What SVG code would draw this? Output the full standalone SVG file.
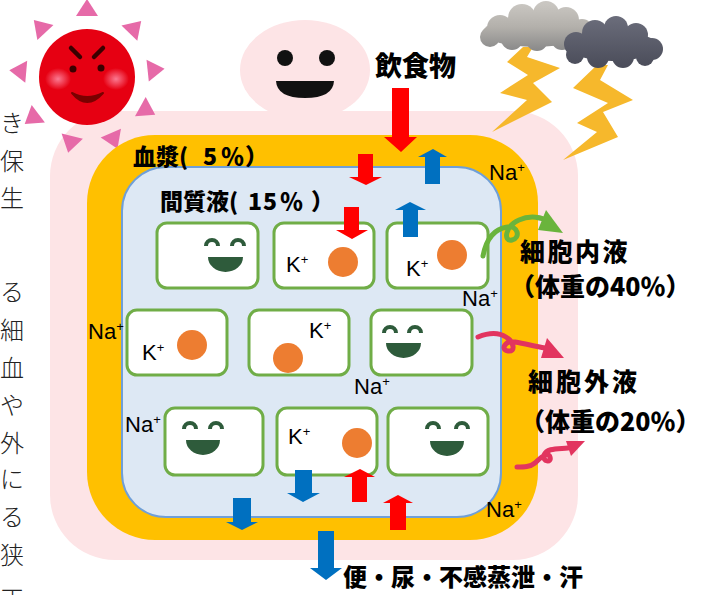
<svg xmlns="http://www.w3.org/2000/svg" width="717" height="595" viewBox="0 0 717 595">
  <defs>
    <style>
      .cell { fill: #ffffff; stroke: #70ad47; stroke-width: 3; }
      .eye { fill: none; stroke: #2e5b3b; stroke-width: 4; }
      .mouth { fill: #2e5b3b; }
      .dot { fill: #ed7d31; }
      .ion { font-family: "Liberation Sans Narrow", "Liberation Sans", sans-serif; font-size: 22px; fill: #000; }
      .sup { font-size: 13px; }
      .head { font-family: "Noto Sans CJK JP", "Noto Sans", sans-serif; font-weight: 900; fill: #000; }
      .side { font-family: "Noto Sans CJK JP", sans-serif; font-weight: 300; font-size: 24px; fill: #222; }
      .red { fill: #ff0000; }
      .blue { fill: #0070c0; }
      .ray { fill: #e66aa8; }
      .bolt { fill: #f6b82c; }
    </style>
    <radialGradient id="cheek">
      <stop offset="0" stop-color="#ff8fa8" stop-opacity="0.85"/>
      <stop offset="1" stop-color="#ff8fa8" stop-opacity="0"/>
    </radialGradient>
    <linearGradient id="cloudLight" gradientUnits="userSpaceOnUse" x1="0" y1="4" x2="0" y2="50">
      <stop offset="0" stop-color="#c9c6c1"/>
      <stop offset="0.5" stop-color="#b3b0ab"/>
      <stop offset="1" stop-color="#8a8a8a"/>
    </linearGradient>
    <linearGradient id="cloudDark" gradientUnits="userSpaceOnUse" x1="0" y1="18" x2="0" y2="68">
      <stop offset="0" stop-color="#6a6c7a"/>
      <stop offset="1" stop-color="#4a4c59"/>
    </linearGradient>
    <polygon id="rayShape" points="0,-78 11,-61 -11,-61"/>
  </defs>

  <!-- right-hand ends of a text block -->
  <g id="sidetext" class="side">
    <text x="0" y="132">き</text>
    <text x="0" y="170">保</text>
    <text x="0" y="207">生</text>
    <text x="0" y="301">る</text>
    <text x="0" y="339">細</text>
    <text x="0" y="377">血</text>
    <text x="0" y="414">や</text>
    <text x="0" y="452">外</text>
    <text x="0" y="488">に</text>
    <text x="0" y="526">る</text>
    <text x="0" y="564">狭</text>
    <text x="0" y="608">正</text>
  </g>

  <!-- body silhouette -->
  <g id="body">
    <ellipse cx="305" cy="70" rx="65" ry="50" fill="#fde4e6"/>
    <rect x="50" y="111" width="528" height="449" rx="65" fill="#fde4e6"/>
    <circle cx="285" cy="58" r="8" fill="#111"/>
    <circle cx="327" cy="58" r="8" fill="#111"/>
    <path d="M276,81 L334,81 Q333,98 305,98 Q277,98 276,81 Z" fill="#111"/>
  </g>

  <!-- sun -->
  <g id="sun">
    <g transform="translate(87,77)">
      <use href="#rayShape" class="ray" transform="rotate(0)"/>
      <use href="#rayShape" class="ray" transform="rotate(44)"/>
      <use href="#rayShape" class="ray" transform="rotate(84)"/>
      <use href="#rayShape" class="ray" transform="rotate(119)"/>
      <use href="#rayShape" class="ray" transform="rotate(157)"/>
      <use href="#rayShape" class="ray" transform="rotate(194)"/>
      <use href="#rayShape" class="ray" transform="rotate(233)"/>
      <use href="#rayShape" class="ray" transform="rotate(275)"/>
      <use href="#rayShape" class="ray" transform="rotate(317)"/>
    </g>
    <circle cx="87" cy="77" r="48" fill="#e60012"/>
    <ellipse cx="58" cy="79" rx="13" ry="11" fill="url(#cheek)"/>
    <ellipse cx="116" cy="79" rx="13" ry="11" fill="url(#cheek)"/>
    <path d="M71,48 L80,57 M103,48 L94,57" stroke="#3a0000" stroke-width="4.5" stroke-linecap="round"/>
    <circle cx="73" cy="69" r="3.5" fill="#3a0000"/>
    <circle cx="101" cy="68" r="3.5" fill="#3a0000"/>
    <path d="M72,93 Q87,111 103,93 Q87,101 72,93 Z" fill="#7a0000" stroke="#7a0000" stroke-width="2" stroke-linejoin="round"/>
  </g>

  <!-- plasma band and interstitial space -->
  <g id="plasma">
    <rect x="87" y="135" width="451" height="405" rx="68" fill="#ffc000"/>
  </g>
  <g id="interstitial">
    <rect x="122" y="167" width="379" height="350" rx="44" fill="#dde8f4" stroke="#6f9fd8" stroke-width="2"/>
  </g>

  <!-- cells -->
  <g id="cell1">
    <rect class="cell" x="157" y="223" width="101" height="65" rx="10"/>
    <path class="eye" d="M206,246 A6,6 0 0 1 218,246 M232,246 A6,6 0 0 1 244,246"/>
    <path class="mouth" d="M208,257 L243,257 A17.5,15 0 0 1 208,257 Z"/>
  </g>
  <g id="cell2">
    <rect class="cell" x="274" y="223" width="100" height="65" rx="10"/>
    <circle class="dot" cx="343" cy="262" r="15"/>
    <text class="ion" x="286" y="272">K<tspan class="sup" dy="-8">+</tspan></text>
  </g>
  <g id="cell3">
    <rect class="cell" x="387" y="223" width="101" height="65" rx="10"/>
    <circle class="dot" cx="452" cy="255" r="15"/>
    <text class="ion" x="406" y="276">K<tspan class="sup" dy="-8">+</tspan></text>
  </g>
  <g id="cell4">
    <rect class="cell" x="127" y="310" width="100" height="65" rx="10"/>
    <circle class="dot" cx="192" cy="345" r="15"/>
    <text class="ion" x="142" y="360">K<tspan class="sup" dy="-8">+</tspan></text>
  </g>
  <g id="cell5">
    <rect class="cell" x="249" y="310" width="100" height="65" rx="10"/>
    <circle class="dot" cx="288" cy="358" r="15"/>
    <text class="ion" x="309" y="338">K<tspan class="sup" dy="-8">+</tspan></text>
  </g>
  <g id="cell6">
    <rect class="cell" x="371" y="310" width="101" height="65" rx="10"/>
    <path class="eye" d="M384,333 A6,6 0 0 1 396,333 M409,333 A6,6 0 0 1 421,333"/>
    <path class="mouth" d="M386,343 L421,343 A17.5,15 0 0 1 386,343 Z"/>
  </g>
  <g id="cell7">
    <rect class="cell" x="165" y="408" width="98" height="67" rx="10"/>
    <path class="eye" d="M184,429 A6,6 0 0 1 196,429 M210,429 A6,6 0 0 1 222,429"/>
    <path class="mouth" d="M186,440 L220,440 A17,15 0 0 1 186,440 Z"/>
  </g>
  <g id="cell8">
    <rect class="cell" x="277" y="408" width="100" height="67" rx="10"/>
    <circle class="dot" cx="357" cy="443" r="15"/>
    <text class="ion" x="288" y="444">K<tspan class="sup" dy="-8">+</tspan></text>
  </g>
  <g id="cell9">
    <rect class="cell" x="388" y="408" width="100" height="67" rx="10"/>
    <path class="eye" d="M427,429 A6,6 0 0 1 439,429 M456,429 A6,6 0 0 1 468,429"/>
    <path class="mouth" d="M430,441 L464,441 A17,15 0 0 1 430,441 Z"/>
  </g>

  <!-- sodium labels -->
  <g id="sodium" class="ion">
    <text x="489" y="180">Na<tspan class="sup" dy="-8">+</tspan></text>
    <text x="462" y="306">Na<tspan class="sup" dy="-8">+</tspan></text>
    <text x="88" y="339">Na<tspan class="sup" dy="-8">+</tspan></text>
    <text x="354" y="394">Na<tspan class="sup" dy="-8">+</tspan></text>
    <text x="125" y="432">Na<tspan class="sup" dy="-8">+</tspan></text>
    <text x="486" y="517">Na<tspan class="sup" dy="-8">+</tspan></text>
  </g>

  <!-- fluid movement arrows -->
  <g id="connectors">
    <polygon class="red" points="392,88 409,88 409,137 417,137 401,152 384,137 392,137"/>
    <polygon class="red" points="358,154 373,154 373,177 382,177 366,185 349,177 358,177"/>
    <polygon class="blue" points="425,184 440,184 440,157 447,157 433,149 418,157 425,157"/>
    <polygon class="red" points="344,207 359,207 359,230 368,230 352,239 336,230 344,230"/>
    <polygon class="blue" points="403,237 418,237 418,210 426,210 410,202 395,210 403,210"/>
    <polygon class="blue" points="233,498 251,498 251,522 258,522 242,530 226,522 233,522"/>
    <polygon class="blue" points="295,470 312,470 312,493 320,493 303,502 287,493 295,493"/>
    <polygon class="red" points="352,502 367,502 367,477 375,477 360,469 344,477 352,477"/>
    <polygon class="red" points="390,530 406,530 406,503 413,503 398,495 383,503 390,503"/>
    <polygon class="blue" points="318,531 334,531 334,568 342,568 326,580 310,568 318,568"/>

    <!-- curly arrows toward the side labels -->
    <path d="M483,256 C486,240 494,229 507,227 C518,225 521,238 512,240 C503,242 505,226 519,220 C530,215 542,217 550,222" fill="none" stroke="#6ab43c" stroke-width="5" stroke-linecap="round"/>
    <polygon points="546,210 563,233 538,230" fill="#6ab43c"/>
    <path d="M478,337 C488,333 498,332 506,337 C514,342 516,352 508,351 C500,350 505,340 515,342 C526,344 534,346 545,348" fill="none" stroke="#e2345f" stroke-width="5" stroke-linecap="round"/>
    <polygon points="547,338 564,358 541,358" fill="#e2345f"/>
    <path d="M517,467 C524,467 530,467 535,463 C540,458 548,451 550,457 C552,463 542,462 544,455 C547,448 557,449 568,448" fill="none" stroke="#e2345f" stroke-width="5" stroke-linecap="round"/>
    <polygon points="566,441 585,441 571,456" fill="#e2345f"/>
  </g>

  <!-- headings -->
  <g id="labels" class="head">
    <text x="133" y="165" font-size="23">血漿(<tspan x="203">5</tspan><tspan x="221">％</tspan><tspan x="245">）</tspan></text>
    <text x="160" y="210" font-size="23">間質液(<tspan x="248">1</tspan><tspan x="263">5</tspan><tspan x="280">％</tspan><tspan x="311">）</tspan></text>
    <text x="375" y="76" font-size="27">飲食物</text>
    <text x="520" y="261" font-size="25" letter-spacing="2.5">細胞内液</text>
    <text x="510" y="296" font-size="25">（体重の40％）</text>
    <text x="528" y="391" font-size="25" letter-spacing="3">細胞外液</text>
    <text x="520" y="431" font-size="25">（体重の20％）</text>
    <text x="343" y="586" font-size="24">便・尿・不感蒸泄・汗</text>
  </g>

  <!-- thunder clouds -->
  <g id="storm">
    <polygon class="bolt" points="523,47 533,47 527,57 560,68 533,83 552,102 492,132 527,100 500,93 528,75 507,62"/>
    <polygon class="bolt" points="597,65 608,65 600,80 633,100 603,112 618,137 563,160 597,132 577,123 608,103 573,88"/>
    <g fill="url(#cloudLight)">
      <ellipse cx="535" cy="32" rx="52" ry="15"/>
      <circle cx="500" cy="28" r="13"/>
      <circle cx="522" cy="18" r="14"/>
      <circle cx="546" cy="14" r="13"/>
      <circle cx="566" cy="20" r="13"/>
      <circle cx="582" cy="30" r="11"/>
      <circle cx="490" cy="37" r="10"/>
      <circle cx="512" cy="39" r="11"/>
      <circle cx="537" cy="40" r="11"/>
      <circle cx="562" cy="39" r="11"/>
    </g>
    <g fill="url(#cloudDark)">
      <ellipse cx="612" cy="46" rx="46" ry="15"/>
      <circle cx="576" cy="44" r="12"/>
      <circle cx="595" cy="33" r="13"/>
      <circle cx="616" cy="28" r="12"/>
      <circle cx="636" cy="35" r="12"/>
      <circle cx="652" cy="49" r="11"/>
      <circle cx="575" cy="55" r="9"/>
      <circle cx="598" cy="57" r="11"/>
      <circle cx="623" cy="57" r="11"/>
      <circle cx="645" cy="57" r="9"/>
    </g>
  </g>
</svg>
